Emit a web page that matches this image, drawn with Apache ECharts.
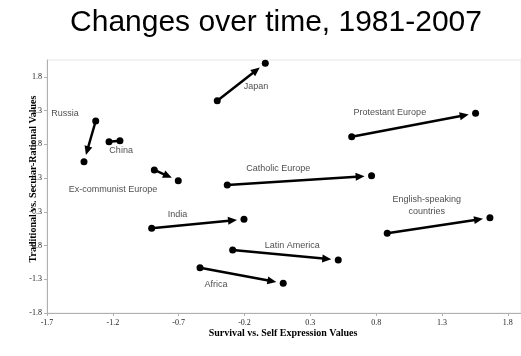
<!DOCTYPE html>
<html><head><meta charset="utf-8">
<script src="https://cdn.jsdelivr.net/npm/echarts@6/dist/echarts.min.js"></script>
<style>html,body{margin:0;padding:0;background:#fff}#c{width:521px;height:356px}</style>
</head><body><div id="c"></div>
<script>
// Data
const groups = ["Japan","Russia","China","Ex-communist Europe","Catholic Europe","India","Latin America","Africa","Protestant Europe","English-speaking\ncountries"];
const startX = [-0.407,-1.330,-1.229,-0.885,-0.331,-0.905,-0.290,-0.538,0.614,0.884];
const startY = [1.397,1.096,0.789,0.370,0.147,-0.494,-0.816,-1.078,0.863,-0.569];
const endX   = [-0.042,-1.419,-1.146,-0.703,0.765,-0.204,0.512,0.094,1.555,1.664];
const endY   = [1.951,0.493,0.804,0.211,0.285,-0.361,-0.964,-1.310,1.210,-0.337];
const hasArrow = [true,true,false,true,true,true,true,true,true,true];
const labelX = [-0.113,-1.563,-1.137,-1.199,0.056,-0.708,0.163,-0.417,0.904,1.185];
const labelY = [1.604,1.214,0.656,0.073,0.395,-0.287,-0.757,-1.335,1.225,-0.164];
const xTickLabels = ["-1.7","-1.2","-0.7","-0.2","0.3","0.8","1.3","1.8"];
const yTickLabels = ["-1.8","-1.3","-0.8","-0.3","0.3","0.8","1.3","1.8"];
const xMin = -1.7, yMin = -1.75, step = 0.5;

const chart = echarts.init(document.getElementById('c'));
const arrowData = groups.map((g,i)=>[startX[i],startY[i],endX[i],endY[i],hasArrow[i]?1:0]);
const dots = [];
groups.forEach((g,i)=>{dots.push([startX[i],startY[i]]);dots.push([endX[i],endY[i]]);});
const labels = groups.map((g,i)=>({value:[labelX[i],labelY[i]],name:g}));

chart.setOption({
  animation:false,
  title:{text:'Changes over time, 1981-2007',left:271,top:3,textAlign:'center',
    textStyle:{fontFamily:'Liberation Sans',fontSize:30,fontWeight:'normal',color:'#000'}},
  grid:{left:47,right:-2,top:60,bottom:43,show:true,borderColor:'#e6e6e6',borderWidth:1},
  xAxis:{type:'value',min:xMin,max:1.9,interval:step,
    axisLine:{onZero:false,lineStyle:{color:'#b0b0b0'}},axisTick:{show:true,length:3,lineStyle:{color:'#b0b0b0'}},
    splitLine:{show:false},
    axisLabel:{showMaxLabel:false,margin:6,fontFamily:'Liberation Serif',fontSize:8,color:'#222',
      formatter:v=>xTickLabels[Math.round((v-xMin)/step)]||''}},
  yAxis:{type:'value',min:yMin,max:2.0,interval:step,
    axisLine:{show:true,onZero:false,lineStyle:{color:'#b0b0b0'}},axisTick:{show:true,length:3,lineStyle:{color:'#b0b0b0'}},
    splitLine:{show:false},
    axisLabel:{showMaxLabel:false,margin:5,fontFamily:'Liberation Serif',fontSize:8,color:'#222',
      formatter:v=>yTickLabels[Math.round((v-yMin)/step)]||''}},
  graphic:[
    {type:'text',x:283,y:333,style:{text:'Survival vs. Self Expression Values',
      font:'bold 10px "Liberation Serif"',fill:'#000',align:'center',verticalAlign:'middle'}},
    {type:'text',x:33,y:179,rotation:Math.PI/2,style:{text:'Traditional vs. Secular-Rational Values',
      font:'bold 10px "Liberation Serif"',fill:'#000',align:'center',verticalAlign:'middle'}}
  ],
  series:[
    {type:'custom',data:arrowData,silent:true,z:3,
      renderItem:function(params,api){
        const p0=api.coord([api.value(0),api.value(1)]);
        const p1=api.coord([api.value(2),api.value(3)]);
        const arrow=api.value(4)===1;
        const dx=p1[0]-p0[0],dy=p1[1]-p0[1],L=Math.sqrt(dx*dx+dy*dy);
        const ux=dx/L,uy=dy/L;
        if(!arrow){
          return {type:'line',shape:{x1:p0[0],y1:p0[1],x2:p1[0],y2:p1[1]},style:{stroke:'#000',lineWidth:2.5}};
        }
        const gap=7, hl=9, hw=4;
        const tip=[p1[0]-ux*gap,p1[1]-uy*gap];
        const base=[tip[0]-ux*hl,tip[1]-uy*hl];
        const px=-uy,py=ux;
        return {type:'group',children:[
          {type:'line',shape:{x1:p0[0],y1:p0[1],x2:base[0]+ux*1,y2:base[1]+uy*1},style:{stroke:'#000',lineWidth:2.5}},
          {type:'polygon',shape:{points:[tip,[base[0]+px*hw,base[1]+py*hw],[base[0]-px*hw,base[1]-py*hw]]},style:{fill:'#000'}}
        ]};
      }},
    {type:'scatter',data:dots,symbol:'circle',symbolSize:7,itemStyle:{color:'#000',opacity:1},z:4,silent:true},
    {type:'scatter',data:labels,symbolSize:0,z:5,silent:true,
      label:{show:true,position:'inside',formatter:p=>p.name,fontFamily:'Liberation Sans',fontSize:9,
        color:'#1a1a1a',lineHeight:12,align:'center',verticalAlign:'middle'}}
  ]
});
</script></body></html>
